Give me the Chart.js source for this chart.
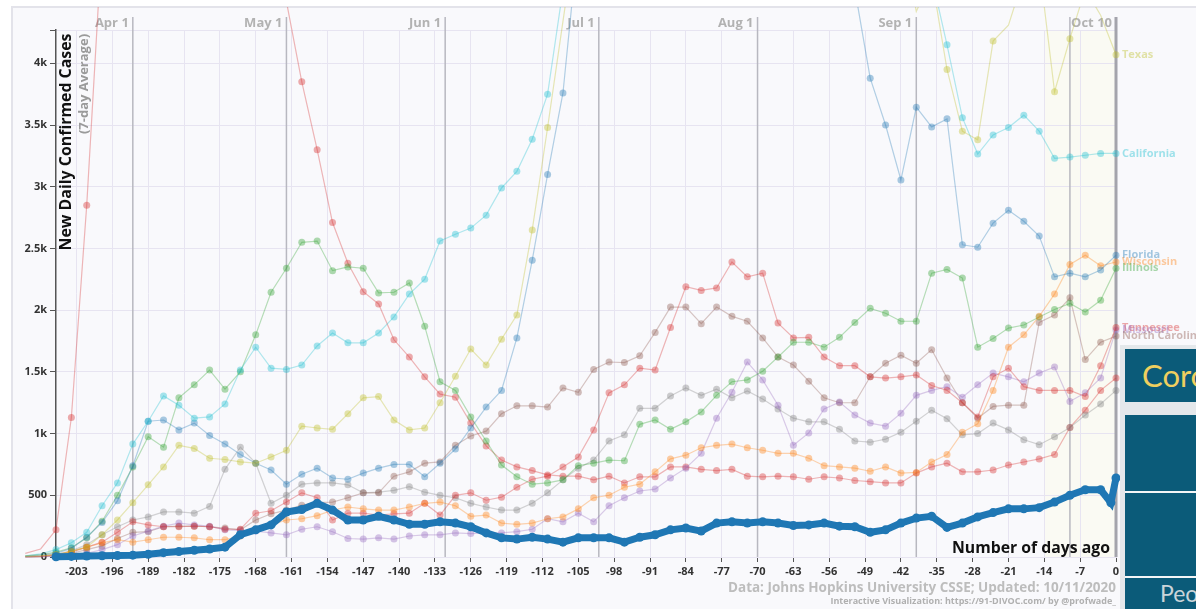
<!DOCTYPE html>
<html>
<head>
<meta charset="utf-8">
<script src="https://cdn.jsdelivr.net/npm/chart.js@4.4.0/dist/chart.umd.min.js"></script>
<style>
  body { margin: 0; background: #fff; width: 1196px; height: 609px; overflow: hidden; position: relative; }
  #wrap { position: absolute; left: 0; top: 0; width: 1196px; height: 609px; }
  .panel { position: absolute; left: 1120px; top: 345px; width: 76px; height: 264px; background: #e4e8eb; }
  .box { position: absolute; left: 1125px; width: 71px; background: #0b5b79; overflow: hidden; white-space: nowrap; font-family: Lato, sans-serif; }
  .sep { position: absolute; left: 1125px; width: 71px; height: 2px; background: #f4f6f7; }
</style>
</head>
<body>
<div id="wrap"><canvas id="chart" width="1196" height="609"></canvas></div>
<div class="panel"></div>
<div class="box" style="top:349px;height:53px;"><span style="position:absolute;left:17px;top:7px;font-size:31px;color:#efcf5f;">Coro</span></div>
<div class="box" style="top:415px;height:161px;"></div>
<div class="sep" style="top:491px;"></div>
<div class="sep" style="top:576px;"></div>
<div class="box" style="top:578px;height:31px;"><span style="position:absolute;left:35px;top:1px;font-size:23px;color:#c9d4d9;">Peo</span></div>

<script>
// days before the last update (every 3rd day)
const days = [
  -213, -210, -207, -204, -201, -198, -195, -192, -189, -186, -183, -180,
  -177, -174, -171, -168, -165, -162, -159, -156, -153, -150, -147, -144,
  -141, -138, -135, -132, -129, -126, -123, -120, -117, -114, -111, -108,
  -105, -102, -99, -96, -93, -90, -87, -84, -81, -78, -75, -72,
  -69, -66, -63, -60, -57, -54, -51, -48, -45, -42, -39, -36,
  -33, -30, -27, -24, -21, -18, -15, -12, -9, -6, -3, 0
];

const texas = [
  5, 10, 20, 45, 80, 180, 300, 440, 585, 730, 905, 880,
  800, 790, 770, 760, 810, 865, 1060, 1045, 1035, 1160, 1290, 1300,
  1110, 1030, 1045, 1250, 1465, 1685, 1555, 1765, 1960, 2650, 3480, 4340,
  5200, 5900, 6500, 7200, 7800, 8600, 9300, 9800, 9900, 9600, 9200, 8800,
  8300, 8000, 7500, 7100, 6700, 6400, 6000, 5700, 5400, 5100, 4420, 4700,
  3950, 3450, 3380, 4180, 4310, 4700, 4800, 3770, 4200, 4600, 4390, 4070
];
const california = [
  10, 25, 60, 115, 200, 415, 600, 915, 1100, 1305, 1230, 1125,
  1135, 1240, 1515, 1700, 1530, 1520, 1555, 1710, 1815, 1735, 1735, 1815,
  1945, 2130, 2250, 2560, 2615, 2665, 2770, 2990, 3125, 3385, 3750, 4600,
  5400, 6200, 7000, 7800, 8400, 8800, 9000, 8900, 8400, 7800, 7000, 6500,
  6000, 5800, 5600, 5400, 5200, 5000, 4900, 4800, 4700, 4650, 4600, 4700,
  4150, 3560, 3265, 3420, 3480, 3580, 3450, 3230, 3240, 3255, 3270, 3270
];
const florida = [
  5, 15, 30, 70, 160, 280, 455, 740, 1100, 1110, 1030, 1085,
  985, 915, 830, 760, 705, 590, 670, 720, 640, 630, 680, 720,
  750, 750, 650, 760, 875, 1045, 1215, 1350, 1775, 2405, 3100, 3760,
  5000, 6800, 8500, 9500, 10500, 11500, 12000, 11500, 10500, 10000, 9500, 8500,
  7500, 7000, 6500, 6000, 5500, 5000, 4600, 3880, 3500, 3055, 3645, 3485,
  3550, 2530, 2510, 2705, 2810, 2720, 2600, 2270, 2300, 2270, 2325, 2445
];
const illinois = [
  10, 20, 40, 75, 155, 290, 500, 730, 975, 890, 1290, 1395,
  1515, 1360, 1500, 1800, 2145, 2340, 2550, 2560, 2320, 2350, 2340, 2140,
  2145, 2220, 1870, 1420, 1350, 1135, 940, 745, 650, 590, 600, 625,
  740, 760, 785, 780, 1075, 1110, 1035, 1095, 1175, 1310, 1420, 1435,
  1505, 1620, 1740, 1740, 1700, 1780, 1900, 2015, 1975, 1910, 1910, 2300,
  2330, 2260, 1700, 1770, 1855, 1880, 1945, 2005, 2055, 1985, 2080, 2340
];
const wisconsin = [
  5, 10, 20, 45, 80, 115, 140, 120, 140, 160, 160, 155,
  140, 140, 170, 220, 260, 300, 310, 335, 380, 405, 390, 380,
  380, 405, 435, 445, 415, 330, 340, 275, 265, 275, 310, 325,
  390, 480, 500, 565, 590, 690, 795, 825, 885, 905, 915, 885,
  865, 840, 840, 800, 740, 730, 720, 695, 730, 680, 685, 770,
  830, 1010, 1080, 1350, 1700, 1800, 1950, 2130, 2370, 2445, 2360, 2390
];
const tennessee = [
  0, 5, 15, 40, 80, 120, 200, 285, 260, 245, 245, 250,
  245, 225, 225, 355, 375, 445, 520, 480, 300, 355, 355, 340,
  350, 355, 435, 340, 500, 520, 460, 485, 565, 630, 655, 730,
  810, 1030, 1330, 1395, 1530, 1515, 1860, 2190, 2160, 2180, 2390, 2270,
  2300, 1895, 1775, 1780, 1620, 1550, 1550, 1460, 1450, 1460, 1475, 1390,
  1350, 1250, 1135, 1460, 1530, 1380, 1350, 1350, 1350, 1300, 1550, 1860
];
const missouri = [
  0, 2, 5, 15, 30, 60, 100, 170, 210, 250, 275, 260,
  250, 220, 215, 210, 195, 180, 225, 245, 205, 150, 145, 155,
  145, 170, 180, 180, 195, 190, 195, 195, 205, 225, 310, 285,
  355, 285, 415, 480, 535, 550, 640, 720, 840, 1125, 1335, 1580,
  1435, 1230, 905, 1005, 1200, 1255, 1150, 1085, 1060, 1165, 1310, 1350,
  1380, 1295, 1395, 1490, 1460, 1420, 1490, 1540, 1260, 1330, 1450, 1840
];
const northCarolina = [
  0, 0, 10, 30, 60, 90, 150, 200, 205, 245, 250, 250,
  245, 235, 220, 300, 350, 380, 420, 440, 445, 480, 520, 520,
  655, 690, 760, 770, 905, 980, 1020, 1160, 1225, 1225, 1215, 1370,
  1335, 1520, 1580, 1575, 1630, 1820, 2025, 2025, 1890, 2025, 1950, 1910,
  1775, 1620, 1555, 1425, 1290, 1250, 1250, 1460, 1570, 1635, 1570, 1680,
  1450, 1250, 1125, 1220, 1230, 1230, 1900, 1960, 2100, 1600, 1740, 1790
];
const grayState = [
  0, 5, 20, 50, 100, 180, 245, 300, 325, 365, 365, 355,
  410, 710, 890, 760, 435, 500, 590, 600, 600, 585, 520, 525,
  540, 570, 525, 500, 480, 435, 405, 380, 380, 435, 520, 625,
  720, 785, 940, 990, 1205, 1205, 1305, 1370, 1310, 1360, 1290, 1345,
  1280, 1200, 1125, 1095, 1095, 1035, 940, 930, 955, 1010, 1100, 1190,
  1120, 990, 1000, 1085, 1030, 950, 910, 975, 1050, 1150, 1240, 1350
];
const newYork = [
  30, 65, 220, 1130, 2850, 5000, 7000, 8500, 9500, 9800, 9500, 9000,
  8500, 8000, 7000, 6000, 5200, 4500, 3850, 3300, 2710, 2380, 2150, 2050,
  1760, 1620, 1460, 1320, 1295, 1085, 900, 785, 730, 700, 665, 655,
  655, 625, 655, 600, 650, 650, 730, 730, 710, 700, 710, 655,
  650, 655, 650, 630, 650, 640, 620, 610, 600, 600, 680, 730,
  760, 690, 690, 705, 745, 770, 795, 830, 1050, 1190, 1350, 1450
];

// highlighted state (thick blue), one extra point near the end
const hlDays = days.slice(0, 71).concat([-1, 0]);
const hlValues = [
  null, null, 2, 5, 8, 10, 12, 15, 22, 35, 45, 55,
  65, 80, 180, 220, 260, 365, 385, 435, 380, 300, 300, 330,
  300, 265, 265, 285, 275, 245, 195, 155, 145, 160, 145, 120,
  155, 155, 155, 120, 160, 180, 220, 235, 210, 275, 285, 275,
  285, 275, 255, 260, 275, 250, 245, 200, 220, 275, 315, 330,
  240, 275, 325, 360, 390, 390, 400, 445, 500, 545, 545, 440, 640
];

const xTicks = [-203, -196, -189, -182, -175, -168, -161, -154, -147, -140, -133, -126, -119, -112,
  -105, -98, -91, -84, -77, -70, -63, -56, -49, -42, -35, -28, -21, -14, -7, 0];
const yTicks = [0, 500, 1000, 1500, 2000, 2500, 3000, 3500, 4000, 4270];
const monthDays = [-192, -162, -131, -101, -70, -39, -9, 0];
const monthLabels = ['Apr 1', 'May 1', 'Jun 1', 'Jul 1', 'Aug 1', 'Sep 1', '', 'Oct 10'];

const FONT = "'Open Sans', 'DejaVu Sans', sans-serif";

const states = [
  { name: 'Texas', values: texas, rgb: '188,189,34', label: true },
  { name: 'California', values: california, rgb: '23,190,207', label: true },
  { name: 'Florida', values: florida, rgb: '31,119,180', label: true },
  { name: 'Wisconsin', values: wisconsin, rgb: '255,127,14', label: true },
  { name: 'Illinois', values: illinois, rgb: '44,160,44', label: true },
  { name: 'Tennessee', values: tennessee, rgb: '214,39,40', label: true },
  { name: 'Missouri', values: missouri, rgb: '148,103,189', label: true },
  { name: 'North Carolina', values: northCarolina, rgb: '140,86,75', label: true },
  { name: 'Gray', values: grayState, rgb: '127,127,127', label: false },
  { name: 'New York', values: newYork, rgb: '214,39,40', label: false }
];

function toPoints(xs, ys) {
  return xs.map((d, i) => ({ x: d, y: ys[i] }));
}

const clipBox = { left: 45, top: 23, right: 6, bottom: 6 };

const datasets = [{
  label: 'highlight',
  data: toPoints(hlDays, hlValues),
  borderColor: '#1f77b4',
  backgroundColor: '#1f77b4',
  borderWidth: 7,
  pointRadius: 4.5,
  pointBorderWidth: 0,
  clip: clipBox
}].concat(states.map(s => ({
  label: s.name,
  data: toPoints(days, s.values),
  borderColor: 'rgba(' + s.rgb + ',0.33)',
  backgroundColor: 'rgba(' + s.rgb + ',0.38)',
  borderWidth: 1.2,
  pointRadius: 3.5,
  pointBorderWidth: 0,
  clip: clipBox
})));

const decor = {
  id: 'decor',
  beforeDraw(chart) {
    const ctx = chart.ctx;
    const x = chart.scales.x;
    const a = chart.chartArea;
    ctx.save();
    ctx.fillStyle = '#ffffff';
    ctx.fillRect(0, 0, chart.width, chart.height);
    ctx.fillStyle = '#f9f9fc';
    ctx.fillRect(12, 7, chart.width - 12, chart.height - 7);
    ctx.strokeStyle = '#e3e3ea';
    ctx.lineWidth = 2;
    ctx.beginPath();
    ctx.moveTo(12, chart.height); ctx.lineTo(12, 7); ctx.lineTo(chart.width, 7);
    ctx.stroke();
    // last two weeks shading
    const x0 = x.getPixelForValue(-14);
    ctx.fillStyle = 'rgba(255,255,215,0.22)';
    ctx.fillRect(x0, a.top, a.right - x0, a.bottom - a.top);
    ctx.restore();
  },
  beforeDatasetsDraw(chart) {
    const ctx = chart.ctx;
    const x = chart.scales.x;
    const a = chart.chartArea;
    ctx.save();
    monthDays.forEach((d, i) => {
      const px = x.getPixelForValue(d);
      ctx.strokeStyle = d === 0 ? '#a4a4ac' : '#b8b8c0';
      ctx.lineWidth = d === 0 ? 3 : 1.5;
      ctx.beginPath();
      ctx.moveTo(px, 17);
      ctx.lineTo(px, a.bottom);
      ctx.stroke();
      if (monthLabels[i]) {
        ctx.fillStyle = '#b2b2b2';
        ctx.font = 'bold 13px ' + FONT;
        ctx.textAlign = 'right';
        ctx.textBaseline = 'middle';
        ctx.fillText(monthLabels[i], px - 4, 23);
      }
    });
    // axis titles
    ctx.translate(66, 142);
    ctx.rotate(-Math.PI / 2);
    ctx.textAlign = 'center';
    ctx.textBaseline = 'middle';
    ctx.fillStyle = '#111';
    ctx.font = 'bold 16px ' + FONT;
    ctx.fillText('New Daily Confirmed Cases', 0, 0, 217);
    ctx.restore();
    ctx.save();
    ctx.translate(84, 84);
    ctx.rotate(-Math.PI / 2);
    ctx.textAlign = 'center';
    ctx.textBaseline = 'middle';
    ctx.fillStyle = '#9a9a9a';
    ctx.font = 'bold 13px ' + FONT;
    ctx.fillText('(7-day Average)', 0, 0, 102);
    ctx.restore();
  },
  afterDatasetsDraw(chart) {
    const ctx = chart.ctx;
    const y = chart.scales.y;
    const a = chart.chartArea;
    ctx.save();
    ctx.font = 'bold 11px ' + FONT;
    ctx.textAlign = 'left';
    ctx.textBaseline = 'middle';
    states.forEach(s => {
      if (!s.label) return;
      const v = s.values[s.values.length - 1];
      ctx.fillStyle = 'rgba(' + s.rgb + ',0.4)';
      ctx.fillText(s.name, a.right + 6, y.getPixelForValue(v));
    });
    ctx.textAlign = 'right';
    ctx.fillStyle = '#111';
    ctx.font = 'bold 16px ' + FONT;
    ctx.fillText('Number of days ago', a.right - 6, 548, 158);
    ctx.fillStyle = '#bdbdbd';
    ctx.font = 'bold 14px ' + FONT;
    ctx.fillText('Data: Johns Hopkins University CSSE; Updated: 10/11/2020', a.right, 588, 388);
    ctx.fillStyle = '#b0b0b0';
    ctx.font = 'bold 9px ' + FONT;
    ctx.fillText('Interactive Visualization: https://91-DIVOC.com/ by @profwade_', a.right, 601, 286);
    ctx.restore();
  }
};

function kLabel(v) {
  if (v === 4270) return '';
  if (v < 1000) return String(v);
  return (v / 1000) + 'k';
}

new Chart(document.getElementById('chart'), {
  type: 'line',
  data: { datasets: datasets },
  options: {
    responsive: false,
    animation: false,
    devicePixelRatio: 1,
    events: [],
    layout: { padding: { left: 0, top: 30, right: 80, bottom: 0 } },
    plugins: { legend: { display: false }, tooltip: { enabled: false } },
    elements: { line: { tension: 0 } },
    scales: {
      x: {
        type: 'linear',
        bounds: 'data',
        afterBuildTicks: s => {
          s.ticks = xTicks.map(v => ({ value: v }));
          s.min = -207;
          s.max = 0;
        },
        afterFit: s => { s.height = 52; },
        grid: { color: '#e7e4f1', lineWidth: 1, tickColor: '#555', tickLength: 5 },
        border: { color: '#e7e4f1' },
        ticks: { color: '#333', font: { family: FONT, size: 11, weight: 'bold' }, padding: 3, maxRotation: 0, autoSkip: false }
      },
      y: {
        type: 'linear',
        min: 0,
        max: 4270,
        afterBuildTicks: s => { s.ticks = yTicks.map(v => ({ value: v })); },
        afterFit: s => { s.width = 56; },
        grid: { color: '#e7e4f1', lineWidth: 1, tickColor: '#555', tickLength: 6 },
        border: { color: '#555', width: 1.5 },
        ticks: { color: '#333', font: { family: FONT, size: 11, weight: 'bold' }, padding: 3, callback: v => kLabel(v) }
      }
    }
  },
  plugins: [decor]
});
</script>
</body>
</html>
